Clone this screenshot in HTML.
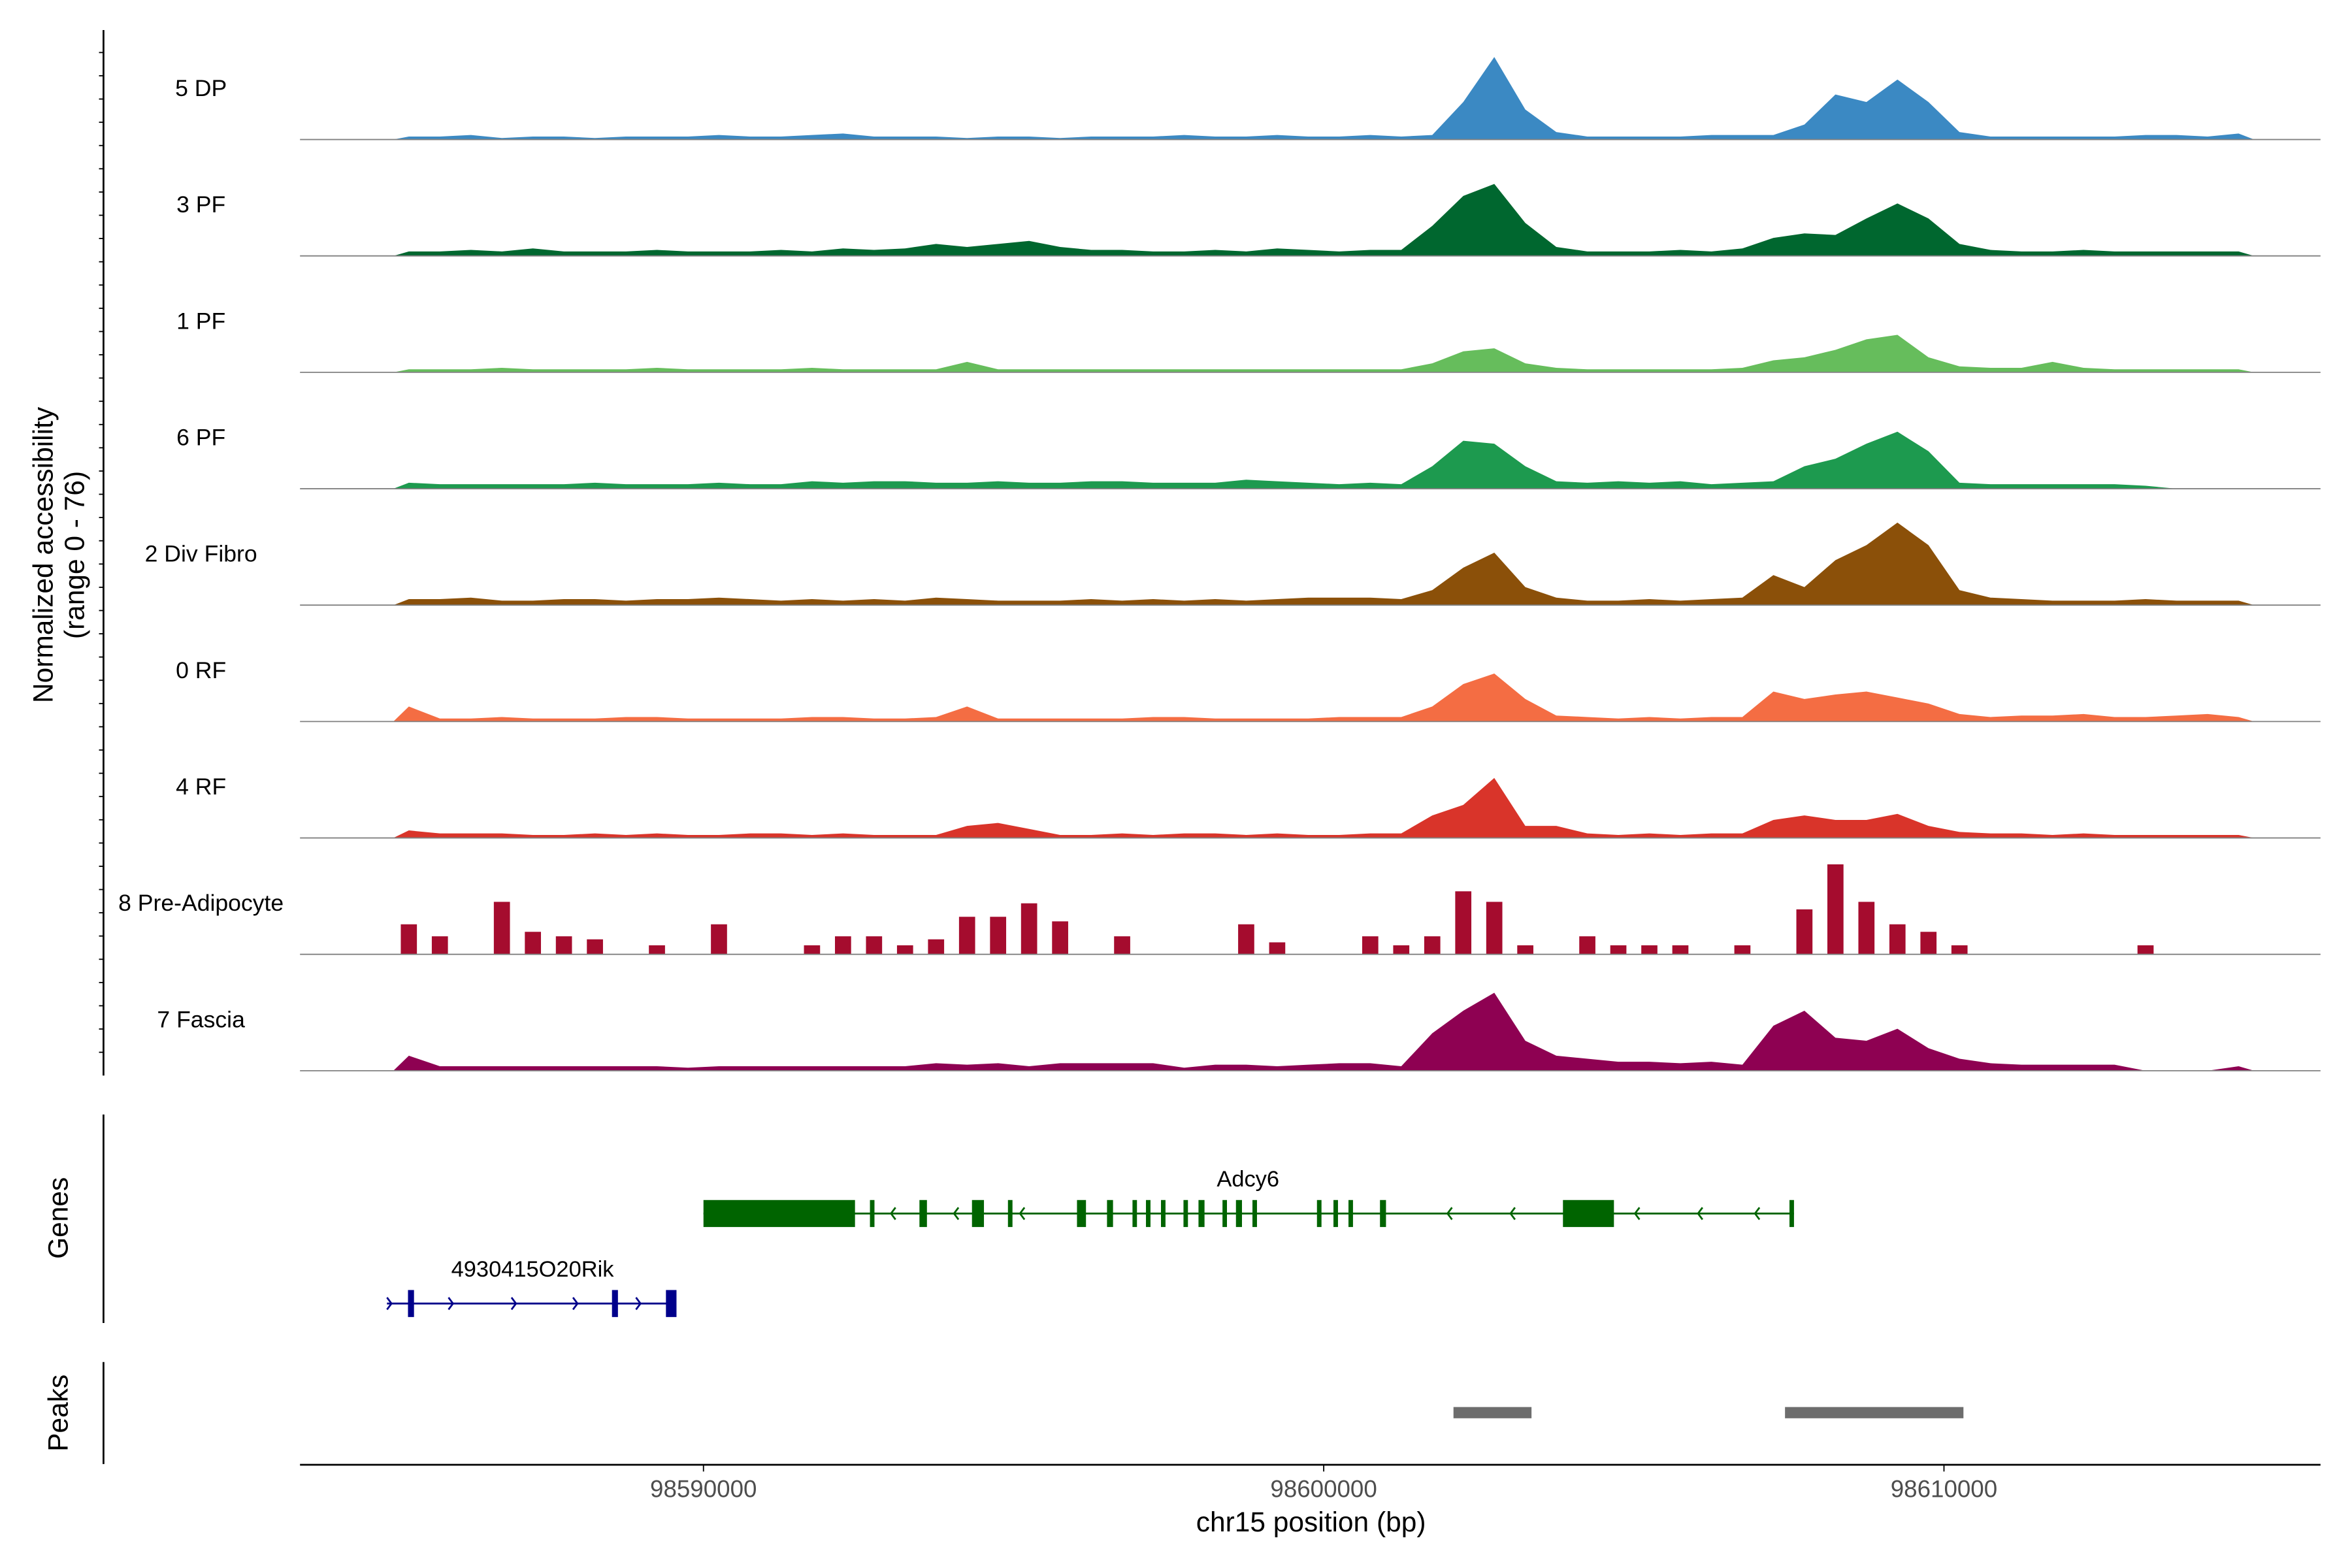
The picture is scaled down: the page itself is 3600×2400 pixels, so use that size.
<!DOCTYPE html>
<html><head><meta charset="utf-8"><style>
html,body{margin:0;padding:0;background:#fff;}
svg{display:block;font-family:"Liberation Sans",sans-serif;}
</style></head><body>
<svg id="chart" width="3600" height="2400" viewBox="0 0 1568 1045.3" xmlns="http://www.w3.org/2000/svg">
<rect x="0" y="0" width="1568" height="1046" fill="#fff"/>
<g id="tracks"></g>
<g id="genes"></g>
<g id="peaks"></g>
<g id="axes"></g>
</svg>
<script>
const binStart = 98585000;
const binSize = 500;
const trackNames = ["5 DP","3 PF","1 PF","6 PF","2 Div Fibro","0 RF","4 RF","8 Pre-Adipocyte","7 Fascia"];
const trackColors = ["#3b89c3","#00672f","#66bd5c","#1d9a4f","#8b5009","#f46d43","#d9342a","#a50c2e","#8e0152"];
const dp5 = [2,2,3,1,2,2,1,2,2,2,3,2,2,3,4,2,2,2,1,2,2,1,2,2,2,3,2,2,3,2,2,3,2,3,25,55,20,5,2,2,2,2,3,3,3,10,30,25,40,25,5,2,2,2,2,2,3,3,2,4];
const pf3 = [3,3,4,3,5,3,3,3,4,3,3,3,4,3,5,4,5,8,6,8,10,6,4,4,3,3,4,3,5,4,3,4,4,20,40,48,22,6,3,3,3,4,3,5,12,15,14,25,35,25,8,4,3,3,4,3,3,3,3,3];
const pf1 = [2,2,2,3,2,2,2,2,3,2,2,2,2,3,2,2,2,2,7,2,2,2,2,2,2,2,2,2,2,2,2,2,2,6,14,16,6,3,2,2,2,2,2,3,8,10,15,22,25,10,4,3,3,7,3,2,2,2,2,2];
const pf6 = [4,3,3,3,3,3,4,3,3,3,4,3,3,5,4,5,5,4,4,5,4,4,5,5,4,4,4,6,5,4,3,4,3,15,32,30,15,5,4,5,4,5,3,4,5,15,20,30,38,25,4,3,3,3,3,3,2,0,0,0];
const divFibro2 = [4,4,5,3,3,4,4,3,4,4,5,4,3,4,3,4,3,5,4,3,3,3,4,3,4,3,4,3,4,5,5,5,4,10,25,35,12,5,3,3,4,3,4,5,20,12,30,40,55,40,10,5,4,3,3,3,4,3,3,3];
const rf0 = [10,2,2,3,2,2,2,3,3,2,2,2,2,3,3,2,2,3,10,2,2,2,2,2,3,3,2,2,2,2,3,3,3,10,25,32,15,4,3,2,3,2,3,3,20,15,18,20,16,12,5,3,4,4,5,3,3,4,5,3];
const rf4 = [5,3,3,3,2,2,3,2,3,2,2,3,3,2,3,2,2,2,8,10,6,2,2,3,2,3,3,2,3,2,2,3,3,15,22,40,8,8,3,2,3,2,3,3,12,15,12,12,16,8,4,3,3,2,3,2,2,2,2,2];
const preAdipo8 = [20,12,0,35,15,12,10,0,6,0,20,0,0,6,12,12,6,10,25,25,34,22,0,12,0,0,0,20,8,0,0,12,6,12,42,35,6,0,12,6,6,6,0,6,0,30,60,35,20,15,6,0,0,0,0,0,6,0,0,0];
const fascia7 = [10,3,3,3,3,3,3,3,3,2,3,3,3,3,3,3,3,5,4,5,3,5,5,5,5,2,4,4,3,4,5,5,3,25,40,52,20,10,8,6,6,5,6,4,30,40,22,20,28,15,8,5,4,4,4,4,0,0,0,3];
const trackValues = [dp5,pf3,pf1,pf6,divFibro2,rf0,rf4,preAdipo8,fascia7];
const xTicks = [98590000,98600000,98610000];
const adcy6Exons = [[98590000,98592443],[98592684,98592757],[98593482,98593603],[98594329,98594522],[98594909,98594982],[98596022,98596167],[98596506,98596603],[98596917,98596989],[98597134,98597207],[98597376,98597449],[98597739,98597811],[98597981,98598078],[98598368,98598440],[98598585,98598682],[98598851,98598924],[98599891,98599964],[98600157,98600230],[98600399,98600472],[98600907,98601004],[98603857,98604679],[98607509,98607582]];
const rikExons = [[98585236,98585333],[98588525,98588621],[98589395,98589565]];
const peakRegions = [[98602092,98603350],[98607437,98610314]];

const NS="http://www.w3.org/2000/svg";
function mk(tag, attrs, parent){const e=document.createElementNS(NS,tag);for(const k in attrs)e.setAttribute(k,attrs[k]);parent.appendChild(e);return e;}
function xs(bp){return 200+(bp-98583495)*0.04135;}
const baseTop=93, trackStep=77.6, yUnit=1.0;
const gT=document.getElementById('tracks');
trackValues.forEach((vals,t)=>{
  const base=baseTop+t*trackStep;
  const g=mk('g',{},gT);
  
  
  let d='';
  if(t===7){
    vals.forEach((v,i)=>{ if(v>0){const x0=xs(binStart+i*binSize+120), x1=xs(binStart+(i+1)*binSize-120);
      d+=`M${x0},${base}L${x0},${base-v*yUnit}L${x1},${base-v*yUnit}L${x1},${base}Z`;} });
  } else {
    d=`M${xs(binStart)},${base}`;
    vals.forEach((v,i)=>{d+=`L${xs(binStart+i*binSize+binSize/2)},${base-v*yUnit}`;});
    d+=`L${xs(binStart+vals.length*binSize)},${base}Z`;
  }
  const p=mk('path',{d:d,fill:trackColors[t]},g);
  
  
  const bl=mk('line',{x1:200,x2:1547,y1:base,y2:base,stroke:'#808080','stroke-width':0.8},g);
  
  
  const lb=mk('text',{x:134,y:base-29,'text-anchor':'middle','font-size':15.5,fill:'#000'},g);
  lb.textContent=trackNames[t];
  
  
});
// genes
const gG=document.getElementById('genes');
const gc='#006400';
const gl=mk('line',{x1:xs(98590000),x2:xs(98607582),y1:809,y2:809,stroke:gc,'stroke-width':1.3},gG);


adcy6Exons.forEach(e=>{
  const w=Math.max(xs(e[1])-xs(e[0]),2.5);
  const r=mk('rect',{x:xs(e[0]),y:800,width:w,height:18,fill:gc},gG);
  
  
});
[594,636,680,965,1007,1090,1132,1170].forEach(x=>{
  const a=mk('path',{d:`M${x+3},805L${x},809L${x+3},813`,fill:'none',stroke:gc,'stroke-width':1.2},gG);
  
  
});
const at=mk('text',{x:832,y:791,'text-anchor':'middle','font-size':15,fill:'#000'},gG);
at.textContent='Adcy6';


const rc='#00008b';
const rl=mk('line',{x1:xs(98584897),x2:xs(98589540),y1:869,y2:869,stroke:rc,'stroke-width':1.3},gG);


rikExons.forEach(e=>{
  const r=mk('rect',{x:xs(e[0]),y:860,width:Math.max(xs(e[1])-xs(e[0]),3),height:18,fill:rc},gG);
  
  
});
[258,299,341,382,424].forEach(x=>{
  const a=mk('path',{d:`M${x},865L${x+3},869L${x},873`,fill:'none',stroke:rc,'stroke-width':1.2},gG);
  
  
});
const rt=mk('text',{x:355,y:851,'text-anchor':'middle','font-size':15,fill:'#000'},gG);
rt.textContent='4930415O20Rik';


// peaks
const gP=document.getElementById('peaks');
peakRegions.forEach(p=>{
  const r=mk('rect',{x:xs(p[0]),y:938,width:xs(p[1])-xs(p[0]),height:7.5,fill:'#6d6d6d'},gP);
  
  
});
// axes
const gA=document.getElementById('axes');
function ln(x1,y1,x2,y2,name,w){const l=mk('line',{x1,y1,x2,y2,stroke:'#000','stroke-width':w||1.2},gA);return l;}
ln(69,20,69,717,'y-axis-line');
for(let y=35;y<=705;y+=15.5){ln(66,y,69,y,'y-axis-tick',0.8);}
ln(69,743,69,882,'genes-axis-line');
ln(69,908,69,976,'peaks-axis-line');
ln(200,976.5,1547,976.5,'x-axis-line');
xTicks.forEach(v=>{
  ln(xs(v),976.5,xs(v),981,'x-axis-tick',0.8);
  const t=mk('text',{x:xs(v),y:998,'text-anchor':'middle','font-size':16,fill:'#4d4d4d'},gA);
  t.textContent=String(v);
  
  
});
const xt=mk('text',{x:874,y:1021,'text-anchor':'middle','font-size':18.5,fill:'#000'},gA);
xt.textContent='chr15 position (bp)';


const yt=mk('text',{transform:'translate(35,370) rotate(-90)','text-anchor':'middle','font-size':18.5,fill:'#000'},gA);
yt.textContent='Normalized accessibility';


const yt2=mk('text',{transform:'translate(56,370) rotate(-90)','text-anchor':'middle','font-size':18.5,fill:'#000'},gA);
yt2.textContent='(range 0 - 76)';


const ge=mk('text',{transform:'translate(45,812) rotate(-90)','text-anchor':'middle','font-size':18.5,fill:'#000'},gA);
ge.textContent='Genes';


const pk=mk('text',{transform:'translate(45,942) rotate(-90)','text-anchor':'middle','font-size':18.5,fill:'#000'},gA);
pk.textContent='Peaks';


</script>
</body></html>
